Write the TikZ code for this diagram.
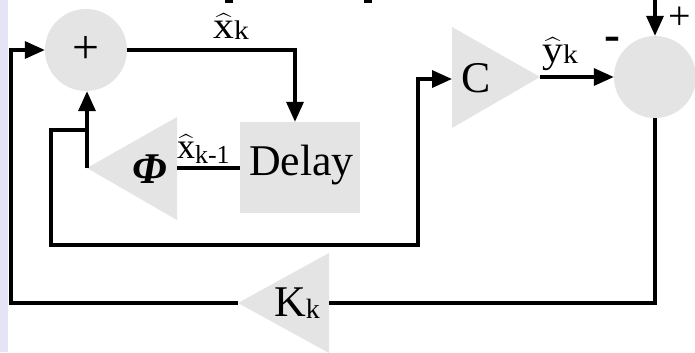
\documentclass[tikz,border=0pt]{standalone}
\usepackage{fontspec}
\usepackage{amsmath}
\usepackage{graphicx}
\setmainfont{Liberation Serif}
\usetikzlibrary{arrows.meta}
\definecolor{blockgray}{HTML}{E4E4E4}
\definecolor{sidebar}{HTML}{E4E4F6}
\newcommand{\fsz}[1]{\fontsize{#1}{#1}\selectfont}
\newcommand{\hatx}{$\widehat{\text{x}}$}
\newcommand{\haty}{$\widehat{\text{y}}$}
\begin{document}
\begin{tikzpicture}[x=1bp,y=-1bp,
  wire/.style={line width=3.4bp},
  arr/.style={wire,-{Triangle[length=20bp,width=17bp]}},
  blk/.style={fill=blockgray},
  lbl/.style={inner sep=0,anchor=base west},
  sumnode/.style={circle,fill=blockgray,minimum size=82bp,inner sep=0}]
\useasboundingbox (0,0) rectangle (695,352);
\fill[white] (0,0) rectangle (695,352);
\fill[sidebar] (0,0) rectangle (8,352);
% cut-off fragments at top edge
\fill[black] (225,0) rectangle (233,2.5);
\fill[black] (364,0) rectangle (372,2.5);
% blocks
\node[sumnode,font=\fsz{48}] (sum) at (86,50) {+};
\node[sumnode] (err) at (655,77) {};
\node[blk,minimum width=120bp,minimum height=91bp,inner sep=0] (delay) at (300,167.5) {};
\node[lbl,font=\fsz{44}] (delaytxt) at (249,175) {Delay};
% triangles
\fill[blockgray] (87,168) -- (177,117) -- (177,220) -- cycle;
\coordinate (phiL) at (87,168);
\coordinate (phiR) at (177,168);
\node[lbl,font=\fsz{44}\bfseries\itshape] (phitxt) at (132,183) {Φ};
\fill[blockgray] (452,27) -- (540,77) -- (452,128) -- cycle;
\coordinate (cL) at (452,79);
\coordinate (cR) at (540,77);
\node[lbl,font=\fsz{44}] (ctxt) at (461,92) {C};
\fill[blockgray] (238,303) -- (329,253) -- (329,353) -- cycle;
\coordinate (kL) at (238,303);
\coordinate (kR) at (329,303);
\node[lbl,font=\fsz{44}] (ktxt) at (274,316) {K\raisebox{-2bp}{\fsz{28}k}};
% labels
\node[lbl,font=\fsz{38}] (xk) at (213,38) {\scalebox{1.1}[1]{\hatx\raisebox{-1bp}{\fsz{27}k}}};
\node[lbl,font=\fsz{36}] (xk1) at (177,158) {\hatx\raisebox{-5bp}{\fsz{26}k-1}};
\node[lbl,font=\fsz{38}] (yk) at (542,62) {\scalebox{1.1}[1]{\haty\raisebox{-1bp}{\fsz{27}k}}};
\node[font=\fsz{48}\bfseries,inner sep=0] (minus) at (612,44) {-};
\node[font=\fsz{40},inner sep=0] (plus) at (680,18) {+};
% connectors
\coordinate (topin) at (655,0);
\coordinate (c1) at (295,50);
\coordinate (br) at (87,130);
\coordinate (b1) at (51,130);
\coordinate (b2) at (51,245);
\coordinate (b3) at (418,245);
\coordinate (b4) at (418,79);
\coordinate (e1) at (655,303);
\coordinate (f1) at (11,303);
\coordinate (f2) at (11,50);
\draw[arr] (sum.east) -- (c1) -- (c1 |- delay.north);
\draw[wire] (delay.west |- phiR) -- (phiR);
\draw[arr] (phiL) -- (phiL |- sum.south);
\draw[arr] (br) -- (b1) -- (b2) -- (b3) -- (b4) -- (cL);
\draw[arr] (cR) -- (err.west);
\draw[arr] (topin) -- (err.north);
\draw[wire] (err.south) -- (e1) -- (kR);
\draw[arr] (kL) -- (f1) -- (f2) -- (sum.west);
\end{tikzpicture}
\end{document}
